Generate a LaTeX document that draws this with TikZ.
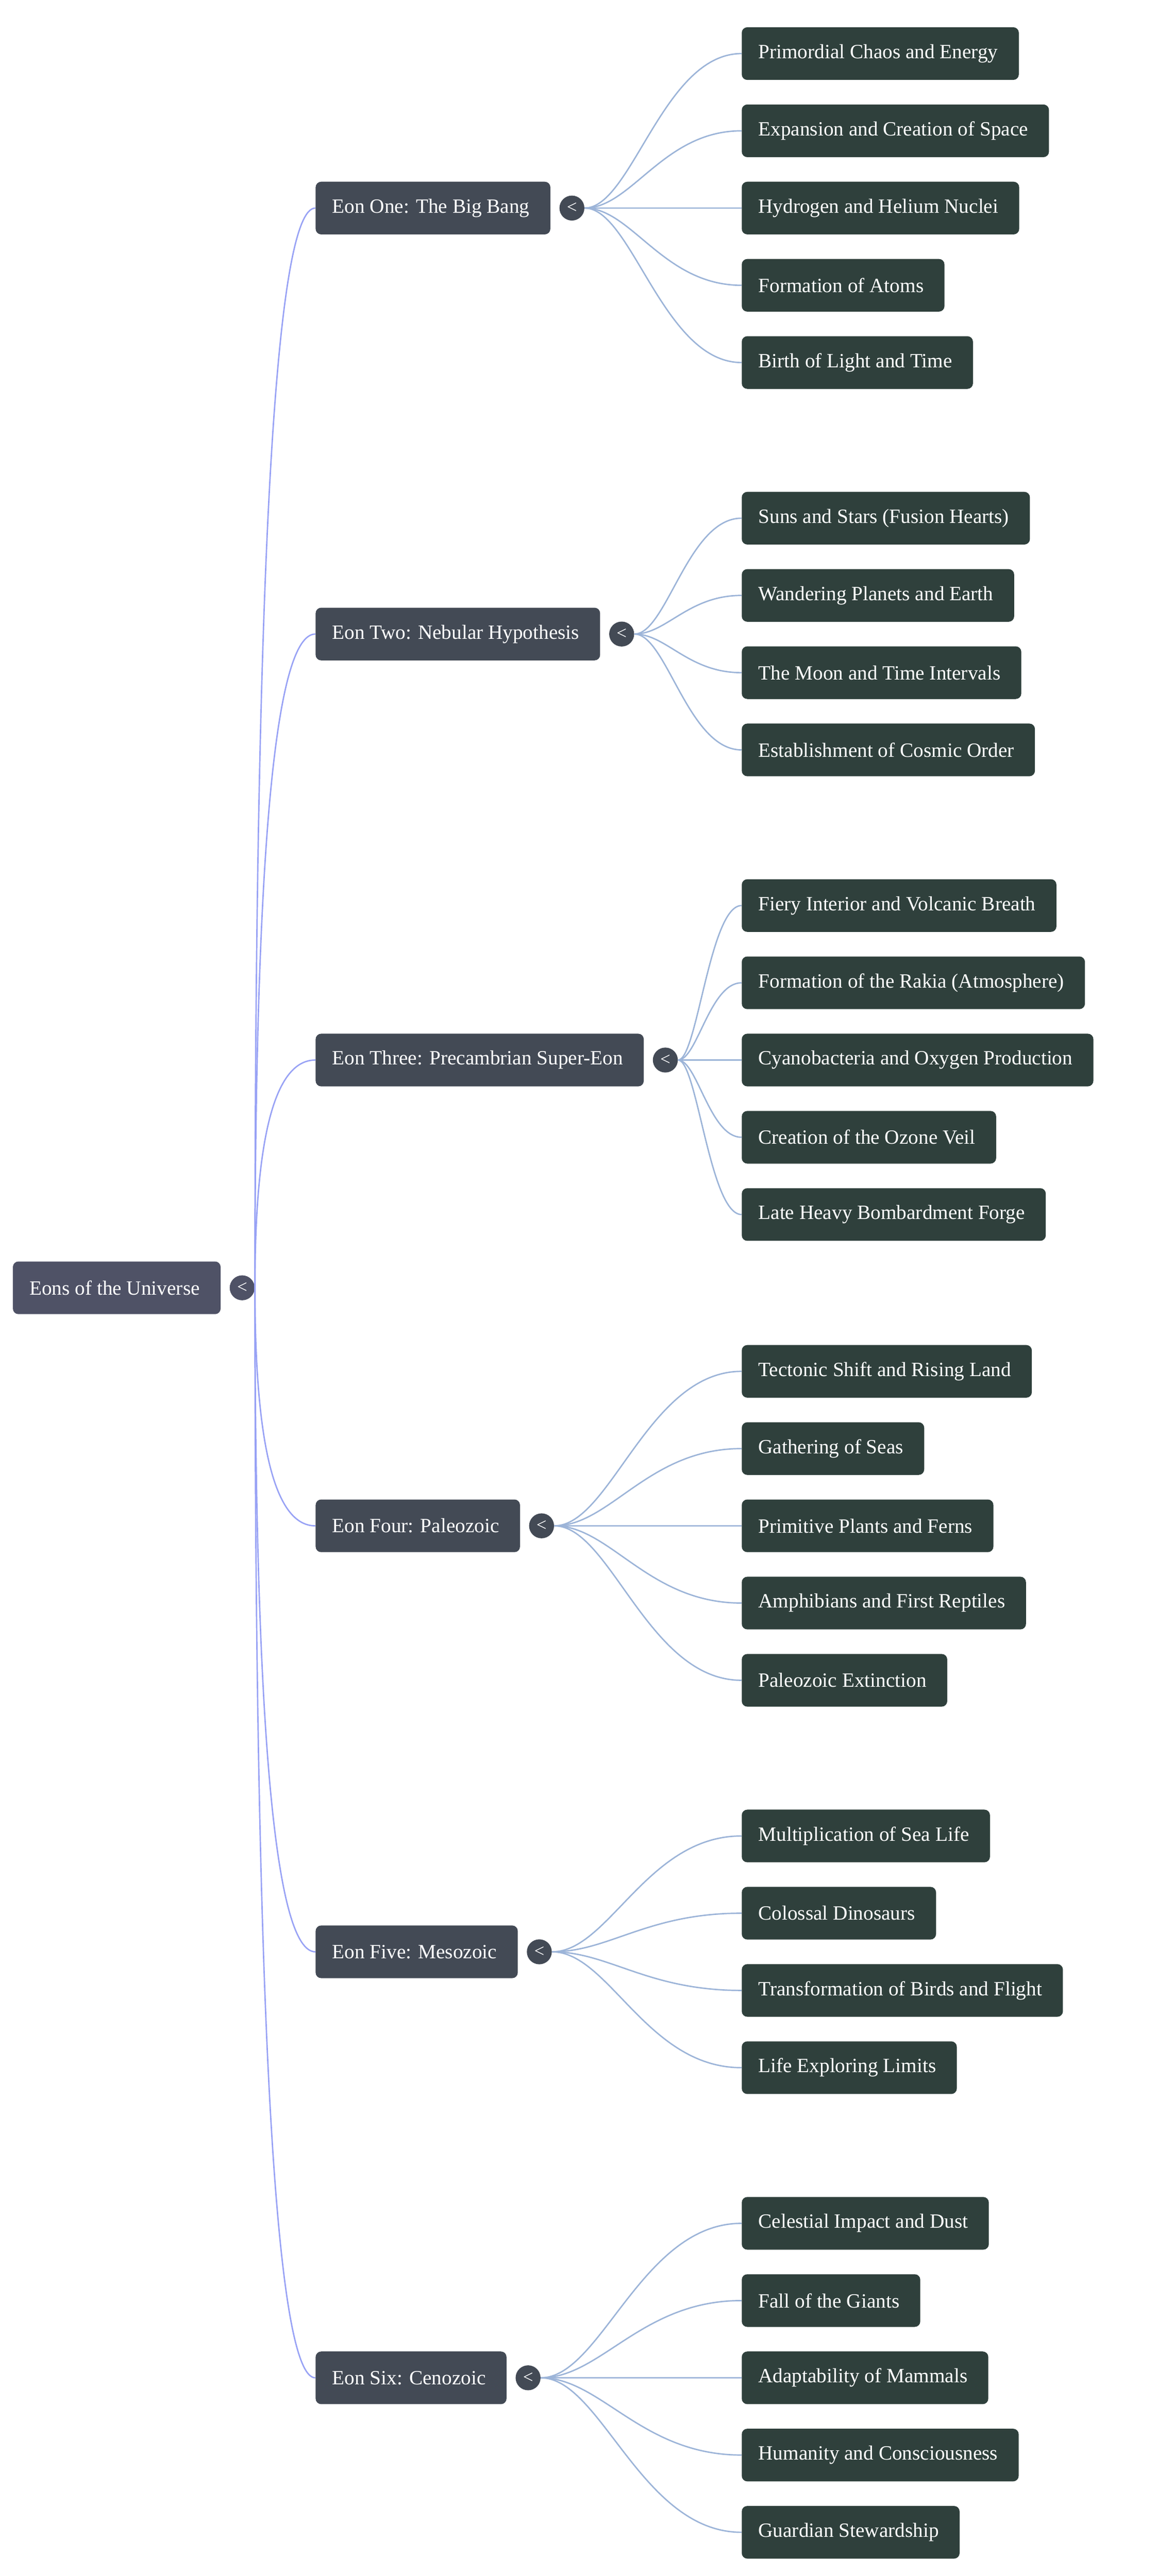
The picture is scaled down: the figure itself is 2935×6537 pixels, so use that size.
\documentclass[tikz,border=0pt]{standalone}
\usepackage{fontspec}
\setmainfont{Liberation Serif}
\usetikzlibrary{calc}
\definecolor{rootfill}{HTML}{4F5266}
\definecolor{eonfill}{HTML}{434A55}
\definecolor{leaffill}{HTML}{2F403C}
\definecolor{rootline}{HTML}{98A2F5}
\definecolor{leafline}{HTML}{9CB4D8}
\tikzset{
  box/.style={rounded corners=4pt, text=white, minimum height=38pt, inner xsep=12pt,
    anchor=west, font=\fontsize{14.6}{17}\selectfont, execute at end node={\hspace*{3pt}}},
  root/.style={box, fill=rootfill},
  eon/.style={box, fill=eonfill},
  leaf/.style={box, fill=leaffill},
  tog/.style={circle, minimum size=18pt, inner sep=0pt, fill=eonfill, text=white,
    font=\fontsize{13}{13}\selectfont},
  rootedge/.style={rootline, line width=1pt},
  leafedge/.style={leafline, line width=1pt}
}
\newcommand{\trunk}[2]{\draw[rootedge] (#1.east) .. controls ($(#1.east)!2/3!(#1.east |- #2.west)$) and ($(#2.west)!2/3!(#1.east |- #2.west)$) .. (#2.west);}
\newcommand{\twig}[2]{\draw[leafedge] (#1.east) .. controls ($(#1.east)!0.3!(#1.east -| #2.west)$) and ($(#2.west)!0.5!(#1.east |- #2.west)$) .. (#2.west);}
\begin{document}
\begin{tikzpicture}[x=0.01cm, y=-0.01cm]
\useasboundingbox (0,0) rectangle (2935,6537);
% root
\node[root] (root) at (32,3268) {Eons of the Universe};
% eons
\node[eon] (e1) at (800,528) {Eon One: The Big Bang};
\node[eon] (e2) at (800,1609) {Eon Two: Nebular Hypothesis};
\node[eon] (e3) at (800,2690) {Eon Three: Precambrian Super-Eon};
\node[eon] (e4) at (800,3872) {Eon Four: Paleozoic};
\node[eon] (e5) at (800,4953) {Eon Five: Mesozoic};
\node[eon] (e6) at (800,6034) {Eon Six: Cenozoic};
% toggles
\node[tog, fill=rootfill] (t0) at ($(root.east)+(54,0)$) {<};
\node[tog] (t1) at ($(e1.east)+(54,0)$) {<};
\node[tog] (t2) at ($(e2.east)+(54,0)$) {<};
\node[tog] (t3) at ($(e3.east)+(54,0)$) {<};
\node[tog] (t4) at ($(e4.east)+(54,0)$) {<};
\node[tog] (t5) at ($(e5.east)+(54,0)$) {<};
\node[tog] (t6) at ($(e6.east)+(54,0)$) {<};
% leaves
\node[leaf] (l11) at (1881,136) {Primordial Chaos and Energy};
\node[leaf] (l12) at (1881,332) {Expansion and Creation of Space};
\node[leaf] (l13) at (1881,528) {Hydrogen and Helium Nuclei};
\node[leaf] (l14) at (1881,724) {Formation of Atoms};
\node[leaf] (l15) at (1881,920) {Birth of Light and Time};
\node[leaf] (l21) at (1881,1315) {Suns and Stars (Fusion Hearts)};
\node[leaf] (l22) at (1881,1511) {Wandering Planets and Earth};
\node[leaf] (l23) at (1881,1707) {The Moon and Time Intervals};
\node[leaf] (l24) at (1881,1903) {Establishment of Cosmic Order};
\node[leaf] (l31) at (1881,2298) {Fiery Interior and Volcanic Breath};
\node[leaf] (l32) at (1881,2494) {Formation of the Rakia (Atmosphere)};
\node[leaf] (l33) at (1881,2690) {Cyanobacteria and Oxygen Production};
\node[leaf] (l34) at (1881,2886) {Creation of the Ozone Veil};
\node[leaf] (l35) at (1881,3082) {Late Heavy Bombardment Forge};
\node[leaf] (l41) at (1881,3480) {Tectonic Shift and Rising Land};
\node[leaf] (l42) at (1881,3676) {Gathering of Seas};
\node[leaf] (l43) at (1881,3872) {Primitive Plants and Ferns};
\node[leaf] (l44) at (1881,4068) {Amphibians and First Reptiles};
\node[leaf] (l45) at (1881,4264) {Paleozoic Extinction};
\node[leaf] (l51) at (1881,4659) {Multiplication of Sea Life};
\node[leaf] (l52) at (1881,4855) {Colossal Dinosaurs};
\node[leaf] (l53) at (1881,5051) {Transformation of Birds and Flight};
\node[leaf] (l54) at (1881,5247) {Life Exploring Limits};
\node[leaf] (l61) at (1881,5642) {Celestial Impact and Dust};
\node[leaf] (l62) at (1881,5838) {Fall of the Giants};
\node[leaf] (l63) at (1881,6034) {Adaptability of Mammals};
\node[leaf] (l64) at (1881,6230) {Humanity and Consciousness};
\node[leaf] (l65) at (1881,6426) {Guardian Stewardship};
% edges
\trunk{t0}{e1} \trunk{t0}{e2} \trunk{t0}{e3}
\trunk{t0}{e4} \trunk{t0}{e5} \trunk{t0}{e6}
\twig{t1}{l11} \twig{t1}{l12} \twig{t1}{l13} \twig{t1}{l14} \twig{t1}{l15}
\twig{t2}{l21} \twig{t2}{l22} \twig{t2}{l23} \twig{t2}{l24}
\twig{t3}{l31} \twig{t3}{l32} \twig{t3}{l33} \twig{t3}{l34} \twig{t3}{l35}
\twig{t4}{l41} \twig{t4}{l42} \twig{t4}{l43} \twig{t4}{l44} \twig{t4}{l45}
\twig{t5}{l51} \twig{t5}{l52} \twig{t5}{l53} \twig{t5}{l54}
\twig{t6}{l61} \twig{t6}{l62} \twig{t6}{l63} \twig{t6}{l64} \twig{t6}{l65}
\end{tikzpicture}
\end{document}
